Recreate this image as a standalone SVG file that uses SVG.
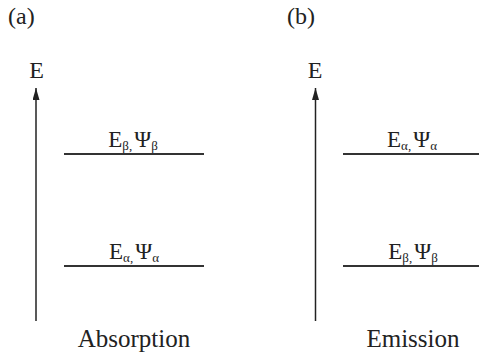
<svg xmlns="http://www.w3.org/2000/svg" width="479" height="360" viewBox="0 0 479 360">
<style>
text{font-family:'Liberation Serif','Times New Roman','DejaVu Serif',serif;fill:#222}
.big{font-size:24px}
.cap{font-size:25px}
.lab{font-size:23px}
.sub{font-size:13px}
.lvl{stroke:#333;stroke-width:2}
.ax{stroke:#222;stroke-width:1.5;fill:none}
</style>
<defs>
<marker id="ah" markerWidth="12" markerHeight="7" refX="12" refY="3.5" orient="auto" markerUnits="userSpaceOnUse" viewBox="0 0 12 7">
<path d="M0,0 L12,3.5 L0,7 Z" fill="#222"/>
</marker>
</defs>
<text class="big" x="8" y="24">(a)</text>
<text class="big" x="287" y="24">(b)</text>
<g id="connectors">
<line class="ax" x1="36" y1="321" x2="36" y2="88" marker-end="url(#ah)"/>
<line class="ax" x1="315.5" y1="321" x2="315.5" y2="88" marker-end="url(#ah)"/>
</g>
<g id="axis-a"><text class="big" x="36.5" y="78" text-anchor="middle">E</text></g>
<g id="axis-b"><text class="big" x="315" y="78" text-anchor="middle">E</text></g>
<g id="a-upper">
<line class="lvl" x1="64" y1="154" x2="204" y2="154"/>
<text class="lab" x="133" y="147" text-anchor="middle">E<tspan class="sub" dy="3">β,</tspan><tspan dy="-3" dx="2">Ψ</tspan><tspan class="sub" dy="3">β</tspan></text>
</g>
<g id="a-lower">
<line class="lvl" x1="64" y1="266" x2="204" y2="266"/>
<text class="lab" x="134" y="259" text-anchor="middle">E<tspan class="sub" dy="3">α,</tspan><tspan dy="-3" dx="2">Ψ</tspan><tspan class="sub" dy="3">α</tspan></text>
</g>
<g id="b-upper">
<line class="lvl" x1="343" y1="154" x2="483" y2="154"/>
<text class="lab" x="412" y="147" text-anchor="middle">E<tspan class="sub" dy="3">α,</tspan><tspan dy="-3" dx="2">Ψ</tspan><tspan class="sub" dy="3">α</tspan></text>
</g>
<g id="b-lower">
<line class="lvl" x1="343" y1="266" x2="483" y2="266"/>
<text class="lab" x="413" y="259" text-anchor="middle">E<tspan class="sub" dy="3">β,</tspan><tspan dy="-3" dx="2">Ψ</tspan><tspan class="sub" dy="3">β</tspan></text>
</g>
<text class="cap" x="134" y="347" text-anchor="middle">Absorption</text>
<text class="cap" x="413" y="347" text-anchor="middle">Emission</text>
</svg>
